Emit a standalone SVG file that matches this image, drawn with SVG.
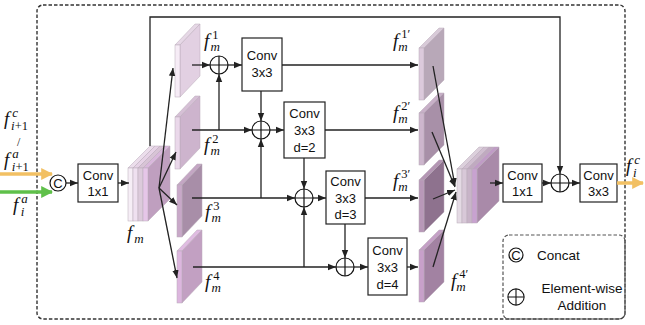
<svg xmlns="http://www.w3.org/2000/svg" width="645" height="325" viewBox="0 0 645 325">
<style>
.ln{stroke:#222;stroke-width:1.3;fill:none}
.arr{marker-end:url(#ah)}
.box{fill:#fff;stroke:#222;stroke-width:1.2}
.bt{font-family:"Liberation Sans",Arial,sans-serif;font-size:13px;fill:#111;text-anchor:middle}
.lg{font-family:"Liberation Sans",Arial,sans-serif;font-size:13.5px;fill:#111;text-anchor:middle}
.op{fill:#fff;stroke:#111;stroke-width:1.2}
.m{font-family:"Liberation Serif","DejaVu Serif",serif;font-style:italic;font-size:19px;fill:#111}
.s{font-style:italic;font-size:13px}
.sn{font-style:normal;font-size:12.5px}
.sl{stroke:#b9aab9;stroke-width:0.5}
</style>
<defs>
<marker id="ah" viewBox="0 0 10 10" refX="10" refY="5" markerWidth="8" markerHeight="8" markerUnits="userSpaceOnUse" orient="auto"><path d="M0,1 L10,5 L0,9 z" fill="#222"/></marker>
<marker id="ay" viewBox="0 0 10 10" refX="9" refY="5" markerWidth="12" markerHeight="12" markerUnits="userSpaceOnUse" orient="auto"><path d="M0,0 L10,5 L0,10 z" fill="#f2c063"/></marker>
<marker id="ag" viewBox="0 0 10 10" refX="9" refY="5" markerWidth="12" markerHeight="12" markerUnits="userSpaceOnUse" orient="auto"><path d="M0,0 L10,5 L0,10 z" fill="#5fc04a"/></marker>
<g id="plus"><circle r="9" class="op"/><path d="M-9,0H9M0,-9V9" stroke="#111" stroke-width="1.2"/></g>
</defs>

<!-- outer dashed frame -->
<rect x="37" y="5" width="588" height="314" rx="6" fill="none" stroke="#333" stroke-width="1.4" stroke-dasharray="3.5,2"/>

<!-- legend -->
<g id="legend">
<rect x="503" y="235" width="122" height="84" rx="6" fill="none" stroke="#555" stroke-width="1.2" stroke-dasharray="3.5,2"/>
<circle cx="516" cy="255" r="7" class="op"/>
<text x="516" y="259.5" class="bt" font-size="11px">C</text>
<text x="537" y="259.5" class="lg" style="text-anchor:start">Concat</text>
<use href="#plus" transform="translate(516,297) scale(0.9)"/>
<text x="582" y="293" class="lg">Element-wise</text>
<text x="582" y="310" class="lg">Addition</text>
</g>

<!-- inputs -->
<g id="inputs">
<line x1="0" y1="174" x2="52" y2="174" stroke="#f2c063" stroke-width="3.5" marker-end="url(#ay)"/>
<line x1="0" y1="192" x2="52" y2="192" stroke="#5fc04a" stroke-width="3.5" marker-end="url(#ag)"/>
<text x="4" y="125" class="m">f<tspan class="s" dx="3" dy="-8">c</tspan><tspan class="s" dx="-7" dy="13">i</tspan><tspan class="sn">+1</tspan></text>
<text x="17" y="146" class="m" style="font-style:normal;font-size:12px">/</text>
<text x="4" y="166" class="m">f<tspan class="s" dx="3" dy="-8">a</tspan><tspan class="s" dx="-7" dy="13">i</tspan><tspan class="sn">+1</tspan></text>
<text x="13" y="211" class="m">f<tspan class="s" dx="3" dy="-8">a</tspan><tspan class="s" dx="-7" dy="13">i</tspan></text>
</g>

<g id="concat1">
<circle cx="58" cy="183" r="8" class="op"/>
<text x="58" y="188" class="bt" font-size="13px">C</text>
</g>

<g id="conv1x1a"><rect x="78" y="164" width="40" height="38" class="box"/><text x="98" y="180" class="bt">Conv</text><text x="98" y="196" class="bt">1x1</text></g>

<!-- fm block -->
<g id="fm">
<polygon points="128,168 133,168 155,146 150,146" fill="#ecdeec" class="sl"/>
<polygon points="133,168 138,168 160,146 155,146" fill="#e6d2e6" class="sl"/>
<polygon points="138,168 143,168 165,146 160,146" fill="#d8c4d6" class="sl"/>
<polygon points="143,168 148,168 170,146 165,146" fill="#d9b8dc" class="sl"/>
<polygon points="148,168 170,146 170,199 148,221" fill="#bf9fbf" class="sl"/>
<rect x="128" y="168" width="5" height="53" fill="#f6eef6" class="sl"/>
<rect x="133" y="168" width="5" height="53" fill="#efe0f0" class="sl"/>
<rect x="138" y="168" width="5" height="53" fill="#dccadb" class="sl"/>
<rect x="143" y="168" width="5" height="53" fill="#e6c6e8" class="sl"/>
<text x="127" y="239" class="m">f<tspan class="s" dx="2" dy="4">m</tspan></text>
</g>

<!-- split slabs -->
<g id="f1">
<polygon points="175,45 180,45 200,24 195,24" fill="#e6d8e6" class="sl"/>
<polygon points="180,45 200,24 200,76 180,97" fill="#e2d0e2" class="sl"/>
<rect x="175" y="45" width="5" height="52" fill="#f6ecf6" class="sl"/>
<text x="204" y="47" class="m">f<tspan class="sn" dx="3" dy="-8">1</tspan><tspan class="s" dx="-8" dy="12">m</tspan></text>
</g>
<g id="f2">
<polygon points="175,117 180,117 200,96 195,96" fill="#d6c0d6" class="sl"/>
<polygon points="180,117 200,96 200,148 180,169" fill="#cdb4cd" class="sl"/>
<rect x="175" y="117" width="5" height="52" fill="#ead8ea" class="sl"/>
<text x="204" y="151" class="m">f<tspan class="sn" dx="3" dy="-8">2</tspan><tspan class="s" dx="-8" dy="12">m</tspan></text>
</g>
<g id="f3">
<polygon points="177,185 182,185 202,164 197,164" fill="#c4a6c4" class="sl"/>
<polygon points="182,185 202,164 202,216 182,237" fill="#a88ea8" class="sl"/>
<rect x="177" y="185" width="5" height="52" fill="#c8a8c8" class="sl"/>
<text x="205" y="218" class="m">f<tspan class="sn" dx="3" dy="-8">3</tspan><tspan class="s" dx="-8" dy="12">m</tspan></text>
</g>
<g id="f4">
<polygon points="177,251 182,251 202,230 197,230" fill="#e0bce2" class="sl"/>
<polygon points="182,251 202,230 202,282 182,303" fill="#c2a0c2" class="sl"/>
<rect x="177" y="251" width="5" height="52" fill="#dcb6de" class="sl"/>
<text x="205" y="288" class="m">f<tspan class="sn" dx="3" dy="-8">4</tspan><tspan class="s" dx="-8" dy="12">m</tspan></text>
</g>

<!-- operators and convs -->
<use id="add1" href="#plus" x="219" y="65"/>
<use id="add2" href="#plus" x="261" y="130"/>
<use id="add3" href="#plus" x="304" y="198"/>
<use id="add4" href="#plus" x="345" y="267"/>
<use id="add5" href="#plus" x="560" y="183"/>

<g id="conv1"><rect x="242" y="38" width="40" height="53" class="box"/><text x="262" y="60" class="bt">Conv</text><text x="262" y="77" class="bt">3x3</text></g>
<g id="conv2"><rect x="284" y="102" width="41" height="56" class="box"/><text x="304.5" y="118" class="bt">Conv</text><text x="304.5" y="135" class="bt">3x3</text><text x="304.5" y="152" class="bt">d=2</text></g>
<g id="conv3"><rect x="326" y="171" width="39" height="53" class="box"/><text x="345.5" y="186" class="bt">Conv</text><text x="345.5" y="203" class="bt">3x3</text><text x="345.5" y="219" class="bt">d=3</text></g>
<g id="conv4"><rect x="368" y="238" width="39" height="57" class="box"/><text x="387.5" y="255" class="bt">Conv</text><text x="387.5" y="272" class="bt">3x3</text><text x="387.5" y="289" class="bt">d=4</text></g>

<!-- output slabs -->
<g id="g1">
<polygon points="419,48 424,48 444,28 439,28" fill="#d8cad8" class="sl"/>
<polygon points="424,48 444,28 444,80 424,100" fill="#b8a8b8" class="sl"/>
<rect x="419" y="48" width="5" height="52" fill="#dccadc" class="sl"/>
<text x="393" y="47" class="m">f<tspan class="sn" dx="3" dy="-9">1′</tspan><tspan class="s" dx="-12" dy="13">m</tspan></text>
</g>
<g id="g2">
<polygon points="419,113 424,113 444,93 439,93" fill="#c8b0c8" class="sl"/>
<polygon points="424,113 444,93 444,145 424,165" fill="#a890a8" class="sl"/>
<rect x="419" y="113" width="5" height="52" fill="#cdb6cd" class="sl"/>
<text x="393" y="119" class="m">f<tspan class="sn" dx="3" dy="-9">2′</tspan><tspan class="s" dx="-12" dy="13">m</tspan></text>
</g>
<g id="g3">
<polygon points="419,180 424,180 444,160 439,160" fill="#b496b4" class="sl"/>
<polygon points="424,180 444,160 444,212 424,232" fill="#8e728e" class="sl"/>
<rect x="419" y="180" width="5" height="52" fill="#b898b8" class="sl"/>
<text x="393" y="187" class="m">f<tspan class="sn" dx="3" dy="-9">3′</tspan><tspan class="s" dx="-12" dy="13">m</tspan></text>
</g>
<g id="g4">
<polygon points="419,250 424,250 444,230 439,230" fill="#c4a0c6" class="sl"/>
<polygon points="424,250 444,230 444,282 424,302" fill="#a282a2" class="sl"/>
<rect x="419" y="250" width="5" height="52" fill="#c8a0ca" class="sl"/>
<text x="451" y="287" class="m">f<tspan class="sn" dx="3" dy="-9">4′</tspan><tspan class="s" dx="-12" dy="13">m</tspan></text>
</g>

<!-- concat block 2 -->
<g id="cat2">
<polygon points="457,169 462,169 484,147 479,147" fill="#dcd0dc" class="sl"/>
<polygon points="462,169 467,169 489,147 484,147" fill="#d0bed0" class="sl"/>
<polygon points="467,169 472,169 494,147 489,147" fill="#c0aac0" class="sl"/>
<polygon points="472,169 477,169 499,147 494,147" fill="#c09cc6" class="sl"/>
<polygon points="477,169 499,147 499,201 477,223" fill="#a98aa9" class="sl"/>
<rect x="457" y="169" width="5" height="54" fill="#e4dae4" class="sl"/>
<rect x="462" y="169" width="5" height="54" fill="#d8c8d8" class="sl"/>
<rect x="467" y="169" width="5" height="54" fill="#c8b4c8" class="sl"/>
<rect x="472" y="169" width="5" height="54" fill="#c8a2d0" class="sl"/>
</g>

<g id="conv1x1b"><rect x="503" y="164" width="39" height="38" class="box"/><text x="522.5" y="180" class="bt">Conv</text><text x="522.5" y="196" class="bt">1x1</text></g>
<g id="conv3x3o"><rect x="580" y="164" width="37" height="38" class="box"/><text x="598.5" y="180" class="bt">Conv</text><text x="598.5" y="196" class="bt">3x3</text></g>

<g id="output">
<line x1="617" y1="183" x2="643" y2="183" stroke="#f2c063" stroke-width="3.5" marker-end="url(#ay)"/>
<text x="626" y="172" class="m">f<tspan class="s" dx="3" dy="-8">c</tspan><tspan class="s" dx="-7" dy="13">i</tspan></text>
</g>

<!-- connectors -->
<g id="connectors">
<line x1="66" y1="183" x2="78" y2="183" class="ln arr"/>
<line x1="118" y1="183" x2="129" y2="183" class="ln arr"/>
<polyline points="150,146 150,17 560,17 560,174" class="ln arr"/>
<line x1="159" y1="188" x2="173" y2="68" class="ln arr"/>
<line x1="159" y1="188" x2="176" y2="152" class="ln arr"/>
<line x1="159" y1="188" x2="177" y2="205" class="ln arr"/>
<line x1="159" y1="188" x2="177" y2="278" class="ln arr"/>
<line x1="192" y1="65" x2="210" y2="65" class="ln arr"/>
<line x1="228" y1="65" x2="242" y2="65" class="ln arr"/>
<line x1="282" y1="65" x2="418" y2="65" class="ln arr"/>
<line x1="192" y1="130" x2="252" y2="130" class="ln arr"/>
<line x1="219" y1="130" x2="219" y2="74" class="ln arr"/>
<line x1="261" y1="91" x2="261" y2="121" class="ln arr"/>
<line x1="270" y1="130" x2="284" y2="130" class="ln arr"/>
<line x1="325" y1="130" x2="418" y2="130" class="ln arr"/>
<line x1="192" y1="198" x2="295" y2="198" class="ln arr"/>
<line x1="261" y1="198" x2="261" y2="139" class="ln arr"/>
<line x1="304" y1="158" x2="304" y2="189" class="ln arr"/>
<line x1="313" y1="198" x2="326" y2="198" class="ln arr"/>
<line x1="365" y1="198" x2="418" y2="198" class="ln arr"/>
<line x1="193" y1="267" x2="336" y2="267" class="ln arr"/>
<line x1="304" y1="267" x2="304" y2="207" class="ln arr"/>
<line x1="345" y1="224" x2="345" y2="258" class="ln arr"/>
<line x1="354" y1="267" x2="368" y2="267" class="ln arr"/>
<line x1="407" y1="267" x2="418" y2="267" class="ln arr"/>
<line x1="433" y1="66" x2="455" y2="186" class="ln arr"/>
<line x1="432" y1="132" x2="455" y2="187" class="ln arr"/>
<line x1="433" y1="199" x2="455" y2="190" class="ln arr"/>
<line x1="433" y1="267" x2="456" y2="192" class="ln arr"/>
<line x1="490" y1="183" x2="503" y2="183" class="ln arr"/>
<line x1="542" y1="183" x2="551" y2="183" class="ln arr"/>
<line x1="569" y1="183" x2="580" y2="183" class="ln arr"/>
</g>
</svg>
